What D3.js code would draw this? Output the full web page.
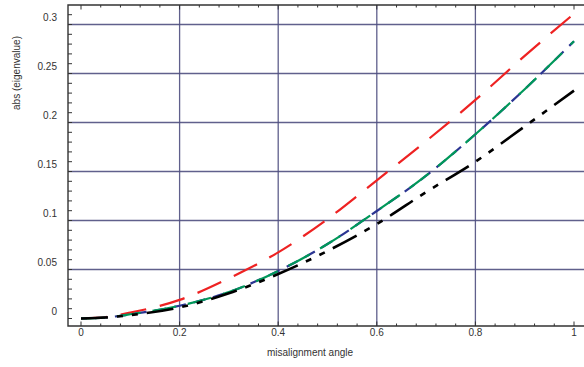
<!DOCTYPE html>
<html>
<head>
<meta charset="utf-8">
<script src="https://d3js.org/d3.v7.min.js"></script>
<style>
  body { margin: 0; background: #fff; }
  text { font-family: "Liberation Sans", Arial, sans-serif; }
</style>
</head>
<body>
<div id="chart"></div>
<script>
// misalignment angle samples
const angles = [0, 0.05, 0.1, 0.2, 0.3, 0.4, 0.5, 0.6, 0.7, 0.8, 0.9, 1.0];
// abs(eigenvalue) for each curve
const redValues   = [0, 0.0015, 0.006, 0.019, 0.041, 0.0675, 0.1015, 0.141, 0.181, 0.223, 0.268, 0.311];
const blueValues  = [0, 0.001, 0.0043, 0.013, 0.027, 0.0485, 0.076, 0.1097, 0.1457, 0.188, 0.234, 0.283];
const greenValues = [0, 0.001, 0.0043, 0.013, 0.027, 0.0485, 0.076, 0.1097, 0.1457, 0.188, 0.234, 0.283];
const blackValues = [0, 0.001, 0.0035, 0.0113, 0.0257, 0.0454, 0.0689, 0.0964, 0.129, 0.160, 0.196, 0.2325];

const xTicks = [0, 0.2, 0.4, 0.6, 0.8, 1];
const xTickLabels = ["0", "0.2", "0.4", "0.6", "0.8", "1"];
const yTicks = [0, 0.05, 0.1, 0.15, 0.2, 0.25, 0.3];
const yTickLabels = ["0", "0.05", "0.1", "0.15", "0.2", "0.25", "0.3"];
const xGrid = [0.2, 0.4, 0.6, 0.8];
const yGrid = [0.05, 0.1, 0.15, 0.2, 0.25, 0.3];

const width = 584, height = 367;
const frame = {left: 68, top: 5, right: 592, bottom: 326};

const svg = d3.select("#chart").append("svg")
    .attr("width", width)
    .attr("height", height);

const x = d3.scaleLinear().domain([0, 1]).range([81, 574]);
const y = d3.scaleLinear().domain([0, 0.3]).range([318.5, 24.5]);

const gridColor = "#4f4f80";

// grid
svg.append("g").selectAll("line").data(yGrid).join("line")
    .attr("x1", frame.left).attr("x2", frame.right)
    .attr("y1", d => y(d)).attr("y2", d => y(d))
    .attr("stroke", gridColor).attr("stroke-width", 1.3).attr("opacity", 0.9);
svg.append("g").selectAll("line").data(xGrid).join("line")
    .attr("x1", d => x(d)).attr("x2", d => x(d))
    .attr("y1", frame.top).attr("y2", frame.bottom)
    .attr("stroke", gridColor).attr("stroke-width", 1.3).attr("opacity", 0.9);

// curves
const series = [
    {values: redValues,   color: "#ee2222", dash: "26,14", offset: 0, w: 2.2},
    {values: blueValues,  color: "#2b3592", dash: "12,8", offset: 6, w: 2.2},
    {values: greenValues, color: "#00985a", dash: "24,12", offset: 0, w: 2.2},
    {values: blackValues, color: "#000000", dash: "27,9,6,9,6,9", offset: 0, w: 2.6}
];

const line = d3.line()
    .x((d, i) => x(angles[i]))
    .y(d => y(d))
    .curve(d3.curveMonotoneX);

svg.append("g").selectAll("path").data(series).join("path")
    .attr("d", d => line(d.values))
    .attr("fill", "none")
    .attr("stroke", d => d.color)
    .attr("stroke-width", d => d.w)
    .attr("stroke-dasharray", d => d.dash)
    .attr("stroke-dashoffset", d => d.offset);

// frame
const frameColor = "#333";
svg.append("path")
    .attr("d", `M${frame.right},${frame.top}H${frame.left}V${frame.bottom}H${frame.right}`)
    .attr("fill", "none")
    .attr("stroke", frameColor)
    .attr("stroke-width", 1.4);

// x ticks (bottom and top)
const xMinor = d3.range(0, 1.0001, 0.04);
const xt = svg.append("g").attr("stroke", frameColor).attr("stroke-width", 1);
xMinor.forEach(v => {
    const major = xTicks.some(t => Math.abs(t - v) < 1e-6);
    const len = major ? 4.5 : 2.5;
    xt.append("line").attr("x1", x(v)).attr("x2", x(v))
        .attr("y1", frame.bottom).attr("y2", frame.bottom - len);
    xt.append("line").attr("x1", x(v)).attr("x2", x(v))
        .attr("y1", frame.top).attr("y2", frame.top + len);
});

// y ticks
const yMinor = d3.range(0, 0.3101, 0.01);
const yt = svg.append("g").attr("stroke", frameColor).attr("stroke-width", 1);
yMinor.forEach(v => {
    yt.append("line").attr("x1", frame.left).attr("x2", frame.left + 4)
        .attr("y1", y(v)).attr("y2", y(v));
});

// tick labels
svg.append("g").selectAll("text").data(xTicks).join("text")
    .attr("x", d => x(d))
    .attr("y", 336)
    .attr("text-anchor", "middle")
    .attr("font-size", 10)
    .attr("fill", "#333")
    .text((d, i) => xTickLabels[i]);

svg.append("g").selectAll("text").data(yTicks).join("text")
    .attr("x", 57)
    .attr("y", d => y(d) - 7)
    .attr("dy", "0.35em")
    .attr("text-anchor", "end")
    .attr("font-size", 10)
    .attr("fill", "#333")
    .text((d, i) => yTickLabels[i]);

// axis titles
svg.append("text")
    .attr("x", 310).attr("y", 356)
    .attr("text-anchor", "middle")
    .attr("font-size", 10)
    .attr("fill", "#333")
    .text("misalignment angle");

svg.append("text")
    .attr("transform", "translate(20,73) rotate(-90)")
    .attr("text-anchor", "middle")
    .attr("font-size", 10)
    .attr("fill", "#333")
    .text("abs (eigenvalue)");
</script>
</body>
</html>
